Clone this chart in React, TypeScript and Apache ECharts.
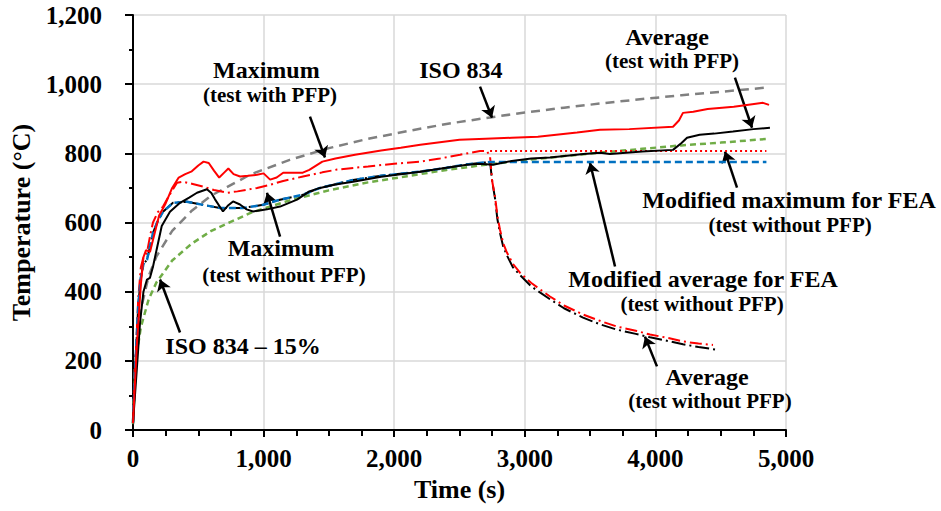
import React, { useEffect, useRef } from "react";
import * as echarts from "echarts";

// ---------- data ----------
const xTicks = [0, 1000, 2000, 3000, 4000, 5000];
const yTicks = [0, 200, 400, 600, 800, 1000, 1200];

const isoTime = [0, 15, 30, 60, 120, 180, 300, 450, 600, 900, 1200, 1500, 1800, 2100, 2400, 2700, 3000, 3300, 3600, 3900, 4200, 4500, 4850];
const isoTemp = [20, 185, 261, 349, 445, 502, 576, 634, 678, 739, 781, 815, 842, 864, 885, 902, 918, 932, 945, 957, 968, 978, 990];

const iso15Time = [0, 15, 30, 60, 120, 180, 300, 450, 600, 900, 1200, 1500, 1800, 2100, 2400, 2700, 3000, 3300, 3600, 3900, 4200, 4500, 4870];
const iso15Temp = [17, 157, 222, 297, 378, 427, 490, 539, 576, 628, 664, 693, 716, 734, 752, 767, 780, 792, 803, 813, 823, 831, 842];

const maxWithTime = [0, 30, 60, 80, 100, 130, 160, 200, 250, 300, 350, 400, 450, 500, 540, 580, 620, 660, 700, 730, 770, 820, 880, 950, 1000, 1050, 1100, 1150, 1300, 1350, 1450, 1550, 1700, 1900, 2050, 2200, 2500, 2700, 2900, 3100, 3400, 3576, 3800, 4135, 4180, 4211, 4290, 4400, 4600, 4700, 4824, 4870];
const maxWithTemp = [20, 250, 420, 500, 520, 515, 560, 620, 655, 700, 730, 740, 748, 765, 776, 772, 750, 730, 745, 756, 740, 733, 735, 738, 742, 724, 730, 744, 744, 752, 776, 785, 796, 808, 816, 825, 839, 842, 845, 848, 860, 868, 870, 877, 895, 917, 920, 928, 935, 940, 946, 940];

const avgWithTime = [0, 30, 54, 80, 107, 130, 153, 180, 220, 283, 360, 430, 490, 566, 600, 628, 689, 730, 766, 819, 870, 919, 970, 1026, 1126, 1256, 1350, 1432, 1550, 1685, 1900, 2198, 2400, 2557, 2650, 2757, 2900, 3050, 3193, 3450, 3576, 3652, 3900, 4135, 4200, 4242, 4339, 4450, 4594, 4750, 4877];
const avgWithTemp = [20, 180, 311, 400, 435, 440, 472, 520, 590, 631, 657, 672, 686, 696, 685, 667, 632, 650, 661, 652, 638, 632, 635, 638, 646, 666, 690, 700, 710, 718, 732, 747, 758, 767, 770, 767, 778, 785, 788, 798, 802, 798, 805, 810, 830, 845, 854, 857, 863, 870, 874];

const maxWithoutTime = [0, 20, 40, 60, 80, 107, 130, 153, 190, 230, 280, 337, 383, 450, 536, 620, 720, 800, 873, 950, 1049, 1150, 1302, 1450, 1562, 1800, 2000, 2198, 2350, 2504, 2657, 2710, 2734, 2750, 2772, 2790, 2810, 2835, 2863, 2910, 2963, 3050, 3193, 3300, 3446, 3580, 3706, 3850, 3959, 4100, 4211, 4330, 4441];
const maxWithoutTemp = [20, 200, 380, 470, 500, 513, 560, 600, 630, 646, 680, 715, 718, 712, 704, 694, 686, 690, 695, 700, 709, 720, 733, 745, 753, 762, 770, 776, 785, 796, 807, 807, 790, 720, 675, 620, 579, 540, 513, 480, 455, 425, 386, 360, 334, 315, 299, 287, 276, 266, 256, 250, 246];

const avgWithoutTime = [0, 20, 40, 60, 80, 107, 130, 153, 190, 230, 306, 413, 536, 666, 842, 995, 1126, 1300, 1432, 1685, 1900, 2198, 2400, 2550, 2734, 2750, 2772, 2790, 2810, 2835, 2863, 2910, 2963, 3050, 3193, 3300, 3446, 3580, 3706, 3850, 3959, 4100, 4211, 4330, 4472];
const avgWithoutTemp = [20, 200, 360, 440, 480, 492, 530, 570, 605, 631, 657, 660, 651, 642, 642, 651, 666, 680, 700, 723, 735, 747, 758, 768, 775, 720, 670, 610, 570, 530, 505, 470, 448, 415, 378, 352, 325, 305, 290, 278, 268, 257, 248, 240, 232];

const modAvgTime = [0, 20, 40, 60, 80, 107, 130, 153, 190, 230, 306, 413, 536, 666, 842, 995, 1126, 1300, 1432, 1685, 1900, 2198, 2400, 2550, 2734, 4850];
const modAvgTemp = [20, 200, 360, 440, 480, 492, 530, 570, 605, 631, 657, 660, 651, 642, 642, 651, 666, 680, 700, 723, 735, 747, 758, 768, 775, 775];

const modMaxTime = [2734, 4850];
const modMaxTemp = [807, 807];

const annotationTitles = ["Maximum", "ISO 834", "Average", "Modified maximum for FEA", "Maximum", "ISO 834 \u2013 15%", "Modified average for FEA", "Average"];
const annotationSubtitles = ["(test with PFP)", "", "(test with PFP)", "(test without PFP)", "(test without PFP)", "", "(test without PFP)", "(test without PFP)"];

// ---------- layout (data coordinates of annotation texts and arrows) ----------
const titleAt: number[][] = [[1021, 1042], [2511, 1042], [4089, 1137], [5023, 666], [1133, 527], [842, 244], [4365, 438], [4395, 152]];
const subtitleAt: number[][] = [[1049, 970], [0, 0], [4127, 1068], [5031, 594], [1156, 449], [0, 0], [4357, 363], [4418, 85]];
const arrowFrom: number[][] = [[1355, 906], [2657, 993], [4609, 1019], [4625, 701], [1126, 559], [360, 282], [3691, 473], [4012, 184]];
const arrowTo: number[][] = [[1470, 788], [2749, 903], [4740, 874], [4533, 805], [1026, 686], [207, 435], [3499, 773], [3920, 270]];

const FONT = '"Liberation Serif", "Times New Roman", Times, serif';

function pairs(xs: number[], ys: number[]) {
  return xs.map((x, i) => [x, ys[i]]);
}

function lineSeries(name: string, xs: number[], ys: number[], color: string, width: number, type: any, z: number) {
  return {
    name,
    type: "line",
    data: pairs(xs, ys),
    showSymbol: false,
    symbol: "none",
    z,
    silent: true,
    lineStyle: { color, width, type },
    emphasis: { disabled: true },
  };
}

export default function App() {
  const ref = useRef<HTMLDivElement>(null);
  useEffect(() => {
    document.body.style.margin = "0";
    const chart = echarts.init(ref.current!, null, { renderer: "svg" });
    const option: any = {
      animation: false,
      backgroundColor: "#ffffff",
      grid: { left: 133, top: 15, right: 155, bottom: 81, containLabel: false },
      xAxis: {
        type: "value",
        min: xTicks[0],
        max: xTicks[xTicks.length - 1],
        interval: 1000,
        name: "Time (s)",
        nameLocation: "middle",
        nameGap: 46,
        nameTextStyle: { fontFamily: FONT, fontWeight: "bold", fontSize: 26, color: "#000" },
        axisLine: { show: true, lineStyle: { color: "#000", width: 2 } },
        axisTick: { show: true, length: 7, lineStyle: { color: "#000", width: 2 } },
        minorTick: { show: true, splitNumber: 4, length: 6, lineStyle: { color: "#000", width: 2 } },
        splitLine: { show: true, lineStyle: { color: "#d9d9d9", width: 1.5 } },
        axisLabel: {
          fontFamily: FONT, fontWeight: "bold", fontSize: 25, color: "#000", margin: 16,
          formatter: (v: number) => v.toLocaleString("en-US"),
        },
      },
      yAxis: {
        type: "value",
        min: yTicks[0],
        max: yTicks[yTicks.length - 1],
        interval: 200,
        name: "Temperature (\u00B0C)",
        nameLocation: "middle",
        nameGap: 98,
        nameRotate: 90,
        nameTextStyle: { fontFamily: FONT, fontWeight: "bold", fontSize: 26, color: "#000" },
        axisLine: { show: true, lineStyle: { color: "#000", width: 2 } },
        axisTick: { show: true, length: 8, lineStyle: { color: "#000", width: 2 } },
        minorTick: { show: true, splitNumber: 2, length: 4, lineStyle: { color: "#000", width: 2 } },
        splitLine: { show: true, lineStyle: { color: "#d9d9d9", width: 1.5 } },
        axisLabel: {
          fontFamily: FONT, fontWeight: "bold", fontSize: 25, color: "#000", margin: 31,
          formatter: (v: number) => v.toLocaleString("en-US"),
        },
      },
      series: [
        lineSeries("ISO 834", isoTime, isoTemp, "#808080", 2.5, [9, 6], 2),
        lineSeries("ISO 834 - 15%", iso15Time, iso15Temp, "#70AD47", 2.5, [6, 4], 3),
        lineSeries("Average (test without PFP)", avgWithoutTime, avgWithoutTemp, "#000000", 2, [14, 4, 2, 4], 4),
        lineSeries("Maximum (test without PFP)", maxWithoutTime, maxWithoutTemp, "#ff0000", 2, [12, 4, 2, 4], 5),
        lineSeries("Modified average for FEA", modAvgTime, modAvgTemp, "#0070C0", 2.5, [7, 4], 6),
        lineSeries("Modified maximum for FEA", modMaxTime, modMaxTemp, "#ff0000", 2, [2, 3], 6),
        lineSeries("Average (test with PFP)", avgWithTime, avgWithTemp, "#000000", 2, "solid", 7),
        lineSeries("Maximum (test with PFP)", maxWithTime, maxWithTemp, "#ff0000", 2, "solid", 8),
        {
          name: "arrows",
          type: "line",
          data: [],
          z: 10,
          silent: true,
          markLine: {
            silent: true,
            symbol: ["none", "arrow"],
            symbolSize: 11,
            label: { show: false },
            emphasis: { disabled: true },
            lineStyle: { color: "#000", width: 2.5, type: "solid" },
            data: arrowFrom.map((f, i) => [{ coord: f }, { coord: arrowTo[i] }]),
          },
        },
      ],
    };
    chart.setOption(option);

    const graphics: any[] = [];
    annotationTitles.forEach((t, i) => {
      const p = chart.convertToPixel({ xAxisIndex: 0, yAxisIndex: 0 }, titleAt[i]) as number[];
      graphics.push({
        type: "text", x: p[0], y: p[1], z: 20,
        style: { text: t, fontFamily: FONT, fontWeight: "bold", fontSize: 24, fill: "#000", textAlign: "center", textVerticalAlign: "middle" },
      });
      if (annotationSubtitles[i]) {
        const q = chart.convertToPixel({ xAxisIndex: 0, yAxisIndex: 0 }, subtitleAt[i]) as number[];
        graphics.push({
          type: "text", x: q[0], y: q[1], z: 20,
          style: { text: annotationSubtitles[i], fontFamily: FONT, fontWeight: "bold", fontSize: 21, fill: "#000", textAlign: "center", textVerticalAlign: "middle" },
        });
      }
    });
    chart.setOption({ graphic: graphics });

    return () => chart.dispose();
  }, []);
  return <div ref={ref} style={{ position: "fixed", left: 0, top: 0, width: 941, height: 511, background: "#fff" }} />;
}
